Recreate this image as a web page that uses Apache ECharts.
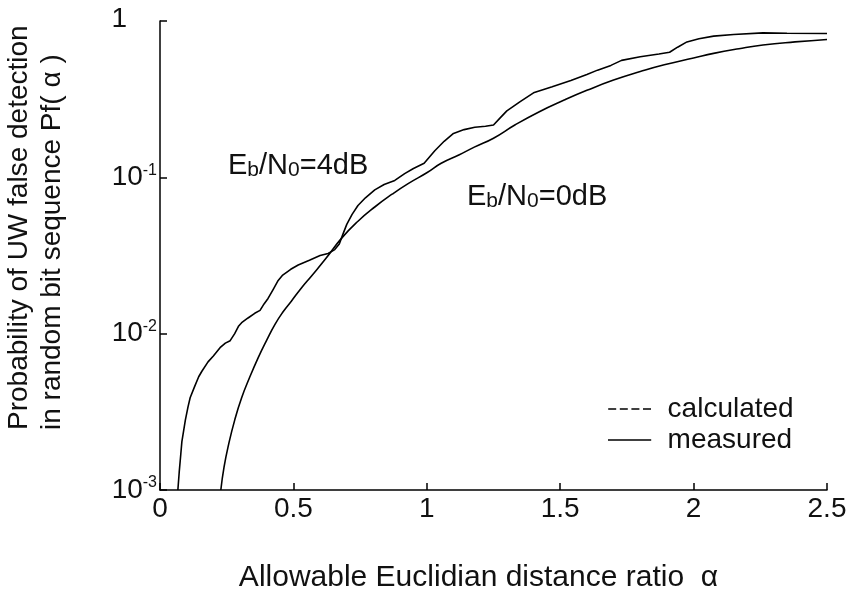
<!DOCTYPE html>
<html>
<head>
<meta charset="utf-8">
<script src="https://cdn.jsdelivr.net/npm/echarts@6/dist/echarts.min.js"></script>
<style>
html,body{margin:0;padding:0;background:#fff;}
#c{width:851px;height:598px;}
</style>
</head>
<body>
<div id="c"></div>
<script>
// Eb/N0 = 4dB curve (measured)
var alpha4 = [0.067,0.072,0.078,0.082,0.095,0.105,0.113,0.13,0.145,0.157,0.18,0.2,0.225,0.245,0.263,0.28,0.295,0.306,0.33,0.355,0.375,0.39,0.405,0.425,0.443,0.46,0.49,0.518,0.56,0.6,0.63,0.655,0.672,0.685,0.7,0.72,0.742,0.77,0.805,0.84,0.88,0.917,0.95,0.99,1.01,1.03,1.065,1.10,1.14,1.18,1.22,1.25,1.275,1.30,1.35,1.40,1.47,1.54,1.6,1.64,1.69,1.73,1.8,1.87,1.91,1.94,1.975,2.02,2.075,2.15,2.26,2.35,2.5];
var pf4 = [0.001,0.0013,0.0017,0.00204,0.0028,0.0034,0.00389,0.0046,0.0053,0.00575,0.0066,0.0072,0.00813,0.0087,0.00902,0.0100,0.0112,0.01175,0.0126,0.0135,0.0141,0.0155,0.0168,0.0193,0.0219,0.0237,0.0258,0.0275,0.0295,0.0316,0.0326,0.0345,0.0375,0.043,0.05,0.058,0.0661,0.074,0.0832,0.090,0.0955,0.1057,0.114,0.123,0.135,0.148,0.170,0.191,0.202,0.209,0.212,0.216,0.24,0.266,0.305,0.347,0.38,0.417,0.455,0.485,0.52,0.56,0.59,0.615,0.631,0.68,0.735,0.77,0.80,0.82,0.84,0.835,0.832];
// Eb/N0 = 0dB curve (measured)
var alpha0 = [0.228,0.24,0.257,0.28,0.306,0.335,0.369,0.40,0.431,0.46,0.493,0.53,0.568,0.62,0.68,0.74,0.805,0.87,0.93,1.0,1.054,1.12,1.178,1.25,1.33,1.42,1.515,1.6,1.70,1.8,1.89,2.0,2.075,2.17,2.26,2.38,2.5];
var pf0 = [0.001,0.0014,0.00195,0.0028,0.00389,0.0052,0.00708,0.0091,0.01148,0.0137,0.0162,0.0196,0.0234,0.030,0.0407,0.052,0.0646,0.078,0.0912,0.107,0.123,0.139,0.156,0.178,0.216,0.262,0.312,0.36,0.419,0.475,0.525,0.58,0.621,0.665,0.702,0.735,0.762];
var xTicks = [0,0.5,1,1.5,2,2.5];
var yTicks = [0.001,0.01,0.1,1];

function zip(a,b){var r=[];for(var i=0;i<a.length;i++)r.push([a[i],b[i]]);return r;}

var FONT = 'Liberation Sans, Arial, Helvetica, sans-serif';
var chart = echarts.init(document.getElementById('c'), null, {renderer:'canvas'});
chart.setOption({
  backgroundColor:'#fff',
  animation:false,
  grid:{left:160,right:24,top:21,bottom:108,containLabel:false},
  xAxis:{
    type:'value',min:0,max:2.5,interval:0.5,
    name:'Allowable Euclidian distance ratio  \u03b1',
    nameLocation:'middle',nameGap:73,
    nameTextStyle:{fontFamily:FONT,fontSize:30,color:'#111',padding:[0,30,0,0]},
    axisLine:{show:true,lineStyle:{color:'#000',width:1.5}},
    axisTick:{show:true,inside:true,length:7,lineStyle:{color:'#000',width:1.5}},
    splitLine:{show:false},
    axisLabel:{fontFamily:FONT,fontSize:28,color:'#111',margin:5,
      formatter:function(v){return String(v);}}
  },
  yAxis:{
    type:'log',logBase:10,min:0.001,max:1,
    axisLine:{show:true,lineStyle:{color:'#000',width:1.5}},
    axisTick:{show:true,inside:true,length:7,lineStyle:{color:'#000',width:1.5}},
    splitLine:{show:false},
    minorTick:{show:false},
    axisLabel:{margin:3,align:'right',
      formatter:function(v){
        var e=Math.round(Math.log10(v));
        if(e===0) return '{one|1}';
        return '{b|10}{s|'+e+'}';
      },
      rich:{
        one:{fontFamily:FONT,fontSize:28,color:'#111',padding:[0,30,4,0]},
        b:{fontFamily:FONT,fontSize:28,color:'#111',lineHeight:30},
        s:{fontFamily:FONT,fontSize:16,color:'#111',verticalAlign:'top',lineHeight:12}
      }
    }
  },
  legend:{
    show:true,orient:'vertical',left:603,top:390,
    itemWidth:54,itemHeight:1.6,itemGap:3,selectedMode:false,
    data:[
      {name:'calculated',icon:'path://M0,0H10V2H0Z M14.5,0H24.5V2H14.5Z M29,0H39V2H29Z M43.5,0H53.5V2H43.5Z'},
      {name:'measured',icon:'path://M0,0H54V2H0Z'}
    ],
    itemStyle:{color:'#000'},
    textStyle:{fontFamily:FONT,fontSize:28,color:'#111',lineHeight:26,padding:[0,0,0,6]}
  },
  series:[
    {name:'calculated',type:'line',data:[],symbol:'none',showSymbol:false,
      lineStyle:{color:'#000',width:1.3,type:[8,5]},itemStyle:{color:'#000'}},
    {name:'measured',type:'line',data:zip(alpha4,pf4),symbol:'none',showSymbol:false,smooth:false,
      lineStyle:{color:'#000',width:1.6},itemStyle:{color:'#000'}},
    {name:'measured',type:'line',data:zip(alpha0,pf0),symbol:'none',showSymbol:false,smooth:true,
      lineStyle:{color:'#000',width:1.6},itemStyle:{color:'#000'}}
  ],
  graphic:[
    {type:'text',x:19,y:430,rotation:Math.PI/2,
      style:{text:'Probability of UW false detection',fontFamily:FONT,fontSize:28,fill:'#111',textAlign:'left',textVerticalAlign:'middle'}},
    {type:'text',x:52,y:430,rotation:Math.PI/2,
      style:{text:'in random bit sequence Pf( \u03b1 )',fontFamily:FONT,fontSize:28,fill:'#111',textAlign:'left',textVerticalAlign:'middle'}},
    {type:'text',x:228,y:166,
      style:{text:'{E|E}{sub|b}{E|/N}{sub|0}{E|=4dB}',textAlign:'left',textVerticalAlign:'middle',
        rich:{E:{fontFamily:FONT,fontSize:29,fill:'#111',lineHeight:30},
              sub:{fontFamily:FONT,fontSize:21,fill:'#111',verticalAlign:'bottom',lineHeight:24}}}},
    {type:'text',x:467,y:197,
      style:{text:'{E|E}{sub|b}{E|/N}{sub|0}{E|=0dB}',textAlign:'left',textVerticalAlign:'middle',
        rich:{E:{fontFamily:FONT,fontSize:29,fill:'#111',lineHeight:30},
              sub:{fontFamily:FONT,fontSize:21,fill:'#111',verticalAlign:'bottom',lineHeight:24}}}}
  ]
});
</script>
</body>
</html>
